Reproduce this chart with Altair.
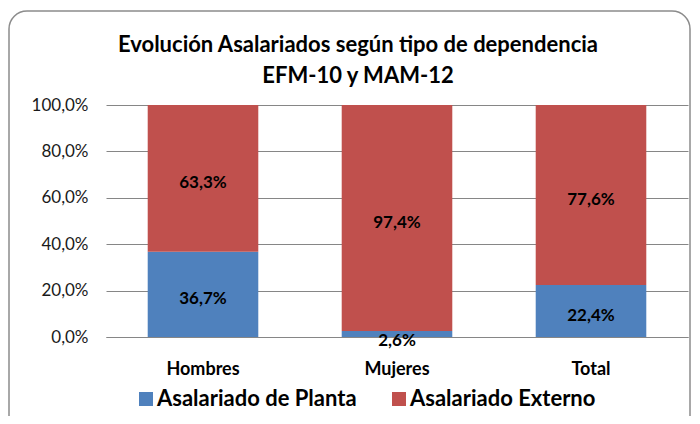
import altair as alt
import pandas as pd

categories = ["Hombres", "Mujeres", "Total"]
planta = [36.7, 2.6, 22.4]
externo = [63.3, 97.4, 77.6]
series = ["Asalariado de Planta", "Asalariado Externo"]
colors = ["#4F81BD", "#C0504D"]
title_lines = ["Evolución Asalariados según tipo de dependencia", "EFM-10 y MAM-12"]

rows = []
for i, c in enumerate(categories):
    rows.append({"cat": c, "tipo": series[0], "val": planta[i], "ord": 0,
                 "mid": planta[i] / 2})
    rows.append({"cat": c, "tipo": series[1], "val": externo[i], "ord": 1,
                 "mid": planta[i] + externo[i] / 2})
df = pd.DataFrame(rows)
df["lbl"] = df["val"].map(lambda v: f"{v:.1f}".replace(".", ",") + "%")

FONT = "Lato"
W, H = 582, 232
yscale = alt.Scale(domain=[0, 100], nice=False)

x_enc = alt.X("cat:N", sort=categories, title=None,
              scale=alt.Scale(paddingInner=0.43, paddingOuter=0.215),
              axis=alt.Axis(labelAngle=0, labelFontSize=18, labelFontWeight="bold",
                            labelColor="#000000", labelFont=FONT, ticks=False,
                            domainColor="#868686", domainWidth=1, labelPadding=23))

bars = alt.Chart(df).mark_bar().encode(
    x=x_enc,
    y=alt.Y("val:Q", stack="zero", title=None, scale=yscale,
            axis=alt.Axis(values=[0, 20, 40, 60, 80, 100],
                          labelExpr="replace(format(datum.value, '.1f'), '.', ',') + '%'",
                          labelFontSize=17, labelFont=FONT, labelColor="#1a1a1a",
                          ticks=False, domain=False, grid=True, gridColor="#868686",
                          gridWidth=1, labelPadding=18)),
    color=alt.Color("tipo:N", sort=series,
                    scale=alt.Scale(domain=series, range=colors),
                    legend=alt.Legend(orient="none", legendX=29, legendY=283,
                                      direction="horizontal", title=None,
                                      symbolType="square", symbolSize=196,
                                      symbolStrokeWidth=0, labelFontSize=22,
                                      labelFontWeight="bold", labelFont=FONT,
                                      labelColor="#000000", columnPadding=31,
                                      labelOffset=0, labelLimit=0)),
    order=alt.Order("ord:Q"),
)

def label_layer(cond, dy):
    return alt.Chart(df).transform_filter(cond).mark_text(
        fontSize=17, fontWeight="bold", font=FONT, color="#000000",
        baseline="middle", dy=dy
    ).encode(
        x=alt.X("cat:N", sort=categories),
        y=alt.Y("mid:Q", stack=None, scale=yscale),
        text="lbl:N",
    )

labels_big = label_layer("datum.val >= 5", 5)
labels_small = label_layer("datum.val < 5", 7)

title_df = pd.DataFrame({"t": title_lines, "line": [0, 1]})
title1 = alt.Chart(title_df).transform_filter("datum.line == 0").mark_text(
    fontSize=22, fontWeight="bold", font=FONT, color="#000000", baseline="middle"
).encode(x=alt.value(252), y=alt.value(-60), text="t:N")
title2 = alt.Chart(title_df).transform_filter("datum.line == 1").mark_text(
    fontSize=22, fontWeight="bold", font=FONT, color="#000000", baseline="middle"
).encode(x=alt.value(252), y=alt.value(-29), text="t:N")

box = alt.Chart(pd.DataFrame({"a": [0]})).mark_rect(
    cornerRadius=18, fill="#ffffff", fillOpacity=0, stroke="#8c8c8c", strokeWidth=1.5
).encode(x=alt.value(-97), x2=alt.value(584), y=alt.value(-94), y2=alt.value(330))

chart = alt.layer(box, bars, labels_big, labels_small, title1, title2).properties(
    width=W, height=H,
    autosize=alt.AutoSizeParams(type="none"),
    padding={"left": 98, "top": 97, "right": 4, "bottom": 79},
    background="#ffffff",
).configure_view(stroke=None)

chart.save("out.html", embed_options={"renderer": "svg", "actions": False})
